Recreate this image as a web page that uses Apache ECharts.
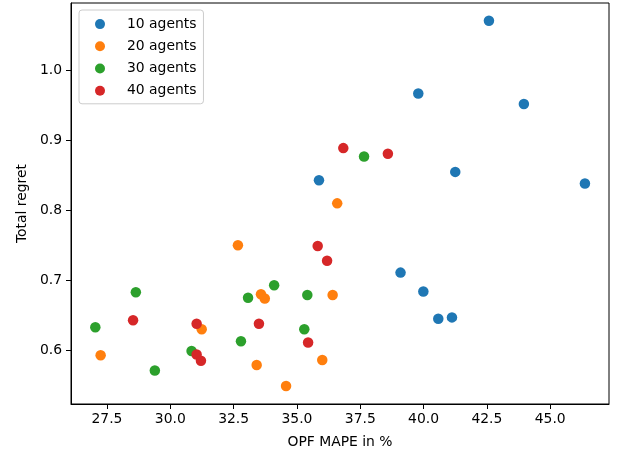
<!DOCTYPE html>
<html>
<head>
<meta charset="utf-8">
<script src="https://cdn.jsdelivr.net/npm/echarts@6/dist/echarts.min.js"></script>
<style>
html,body{margin:0;padding:0;background:#fff;}
#chart{width:618px;height:455px;}
</style>
</head>
<body>
<div id="chart"></div>
<script>
const seriesNames = ['10 agents', '20 agents', '30 agents', '40 agents'];
const colors = ['#1f77b4', '#ff7f0e', '#2ca02c', '#d62728'];

const agents10 = [[42.58,1.071],[39.79,0.967],[43.96,0.952],[35.87,0.843],[41.25,0.855],[46.37,0.8385],[39.09,0.711],[39.99,0.684],[40.58,0.645],[41.12,0.647]];
const agents20 = [[36.59,0.810],[32.67,0.750],[36.41,0.679],[33.58,0.680],[33.73,0.674],[31.24,0.630],[36.00,0.586],[27.25,0.593],[33.41,0.579],[34.57,0.549]];
const agents30 = [[37.65,0.877],[28.64,0.683],[34.10,0.693],[33.07,0.675],[35.41,0.679],[27.04,0.633],[35.29,0.630],[32.79,0.613],[30.84,0.599],[29.39,0.571]];
const agents40 = [[36.83,0.889],[38.59,0.881],[35.82,0.749],[36.19,0.728],[28.53,0.643],[31.04,0.638],[33.50,0.638],[35.44,0.611],[31.04,0.594],[31.21,0.585]];

const xTicks = [27.5, 30.0, 32.5, 35.0, 37.5, 40.0, 42.5, 45.0];
const yTicks = [0.6, 0.7, 0.8, 0.9, 1.0];

const allData = [agents10, agents20, agents30, agents40];
const font = 'DejaVu Sans';
const fs = 13.9;

const chart = echarts.init(document.getElementById('chart'), null, {renderer: 'canvas'});
chart.setOption({
  animation: false,
  backgroundColor: '#fff',
  textStyle: {fontFamily: font},
  grid: {left: 71, right: 9, top: 3, bottom: 51, show: true, borderColor: '#000', borderWidth: 1, backgroundColor: 'transparent'},
  legend: {
    orient: 'vertical',
    left: 79, top: 10,
    padding: [7, 7, 6, 16],
    itemGap: 8,
    itemWidth: 10, itemHeight: 10,
    icon: 'circle',
    borderColor: '#cccccc', borderWidth: 1, borderRadius: 3,
    backgroundColor: 'rgba(255,255,255,0.8)',
    textStyle: {fontFamily: font, fontSize: fs, color: '#000', lineHeight: 14.2, padding: [0, 0, 0, 17]},
    data: seriesNames
  },
  xAxis: {
    type: 'value', min: 26.08, max: 47.32,
    name: 'OPF MAPE in %', nameLocation: 'middle', nameGap: 31,
    nameTextStyle: {fontFamily: font, fontSize: fs, color: '#000'},
    splitLine: {show: false},
    axisLine: {show: true, onZero: false, lineStyle: {color: '#000', width: 1}},
    axisTick: {show: true, length: 5, lineStyle: {color: '#000'}, customValues: xTicks},
    axisLabel: {fontFamily: font, fontSize: fs, color: '#000', margin: 8, customValues: xTicks, formatter: v => v.toFixed(1)}
  },
  yAxis: {
    type: 'value', min: 0.5232, max: 1.0964,
    name: 'Total regret', nameLocation: 'middle', nameGap: 42, nameRotate: 90,
    nameTextStyle: {fontFamily: font, fontSize: fs, color: '#000'},
    splitLine: {show: false},
    axisLine: {show: true, onZero: false, lineStyle: {color: '#000', width: 1}},
    axisTick: {show: true, length: 5, lineStyle: {color: '#000'}, customValues: yTicks},
    axisLabel: {fontFamily: font, fontSize: fs, color: '#000', margin: 9, customValues: yTicks, formatter: v => v.toFixed(1)}
  },
  series: seriesNames.map((n, i) => ({
    name: n, type: 'scatter', data: allData[i], symbol: 'circle', symbolSize: 10.5,
    itemStyle: {color: colors[i], opacity: 1}
  }))
});
</script>
</body>
</html>
